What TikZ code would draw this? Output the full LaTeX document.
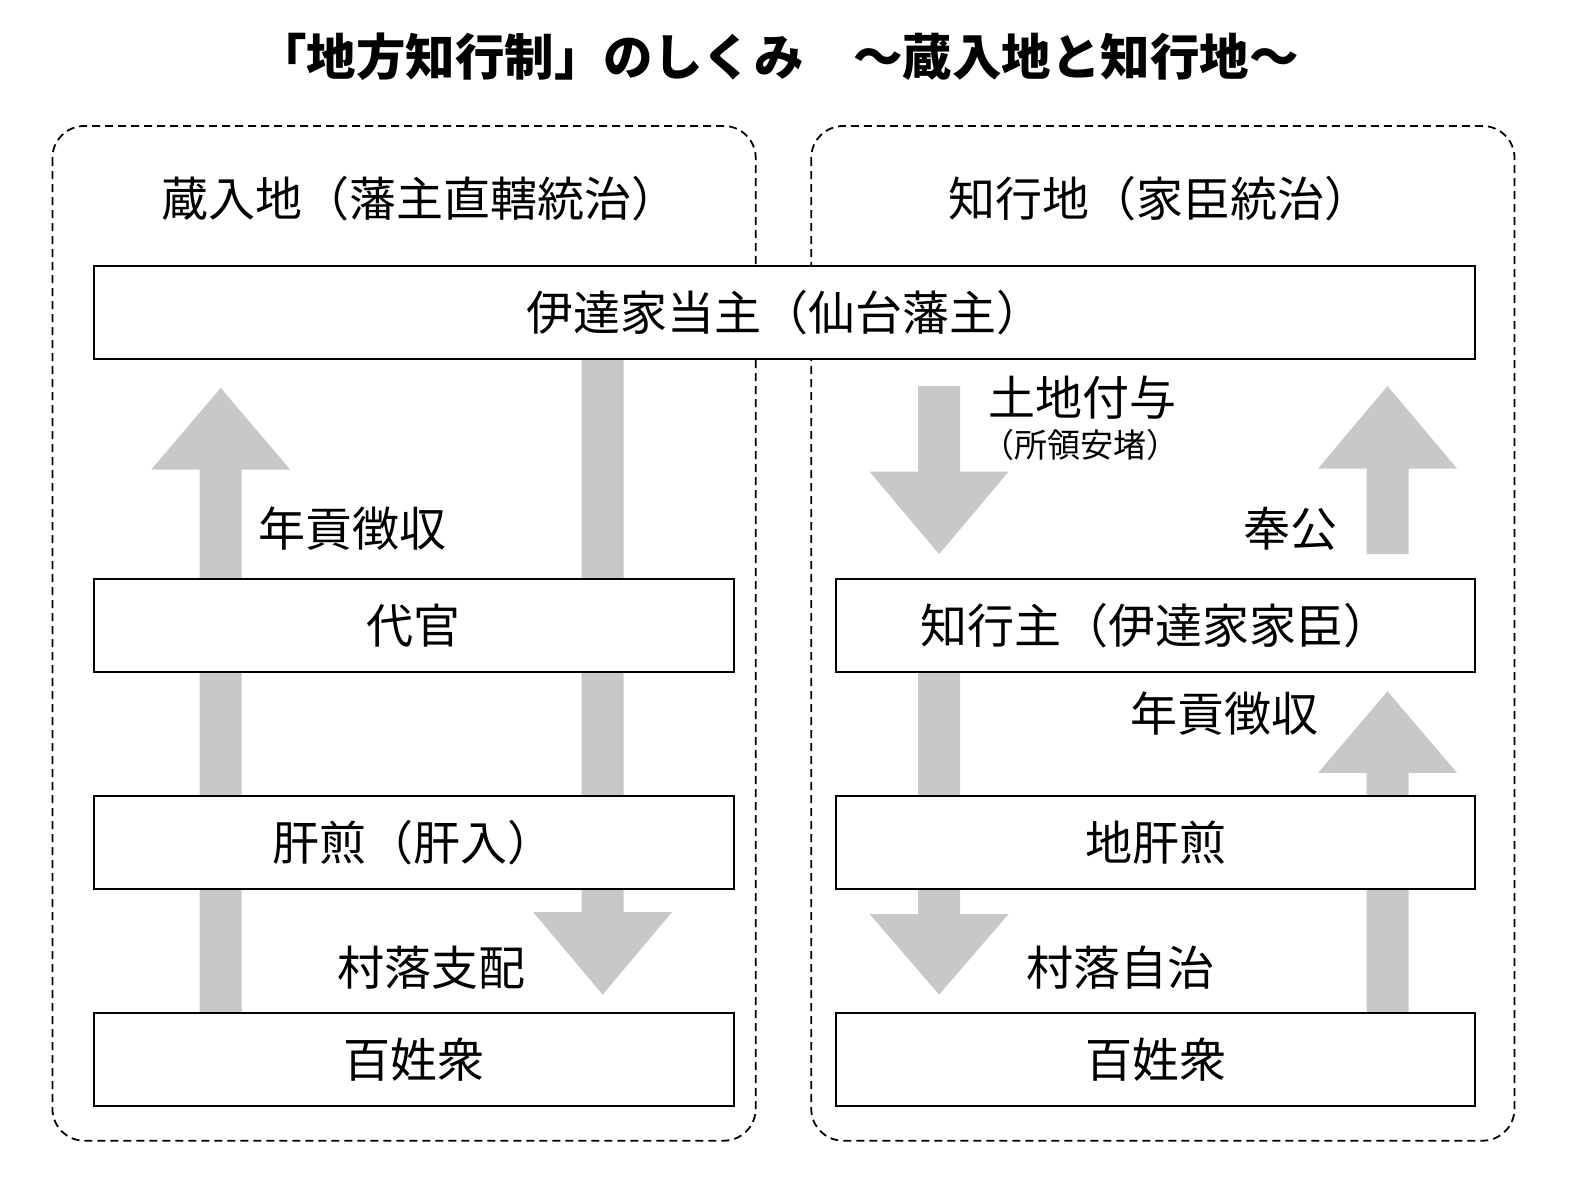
\documentclass[tikz,border=0pt]{standalone}
\usepackage{fontspec}
\setmainfont{Noto Sans CJK JP}
\definecolor{arrowgray}{RGB}{200,200,200}
\newcommand{\blockarr}[4]{%
  \fill[arrowgray] (#1-21,#2) -- (#1-21,#3) -- (#1-69.5,#3) -- (#1,#4) -- (#1+69.5,#3) -- (#1+21,#3) -- (#1+21,#2) -- cycle;}
\begin{document}
\begin{tikzpicture}[x=1pt,y=-1pt,
  box/.style={draw, line width=2pt, fill=white, inner sep=0pt, font=\fontsize{47}{56}\selectfont},
  zone/.style={draw, line width=1.8pt, dash pattern=on 8pt off 5pt, rounded corners=32pt},
  lbl/.style={font=\fontsize{47}{56}\selectfont, inner sep=0pt},
  smalllbl/.style={font=\fontsize{33}{40}\selectfont, inner sep=0pt},
  titlelbl/.style={font=\fontsize{49.5}{60}\selectfont\bfseries, inner sep=0pt}]
\useasboundingbox[fill=white] (0,0) rectangle (1580,1199);

% title
\node[titlelbl] (title) at (778,57) {「地方知行制」のしくみ　～蔵入地と知行地～};

% zones
\draw[zone] (52.4,126) rectangle (755.7,1140.7);
\draw[zone] (811.2,126) rectangle (1514.5,1140.7);
\node[lbl] (hdrL) at (420,198.5) {蔵入地（藩主直轄統治）};
\node[lbl] (hdrR) at (1160,198.5) {知行地（家臣統治）};

% arrows
\blockarr{220.7}{1012.7}{469.6}{388}
\blockarr{602.6}{358.7}{912}{994.6}
\blockarr{939.1}{386}{471.6}{554.2}
\blockarr{1387.5}{554.2}{468.6}{386}
\blockarr{939.1}{672.1}{914}{994.6}
\blockarr{1387.5}{1012.7}{772.9}{691.3}

% boxes
\node[box, minimum width=1381.5pt, minimum height=92.7pt] (lord) at (784.5,312.3) {伊達家当主（仙台藩主）};
\node[box, minimum width=640pt, minimum height=92.7pt] (daikan) at (413.6,625.7) {代官};
\node[box, minimum width=640pt, minimum height=92.7pt] (kimoiri) at (413.6,842.4) {肝煎（肝入）};
\node[box, minimum width=640pt, minimum height=92.7pt] (hyakuL) at (413.6,1059.5) {百姓衆};
\node[box, minimum width=639pt, minimum height=92.7pt] (chigyo) at (1155.8,625.7) {知行主（伊達家家臣）};
\node[box, minimum width=639pt, minimum height=92.7pt] (jikimo) at (1155.8,842.4) {地肝煎};
\node[box, minimum width=639pt, minimum height=92.7pt] (hyakuR) at (1155.8,1059.5) {百姓衆};

% labels
\node[lbl] (nengL) at (352.7,529) {年貢徴収};
\node[lbl] (sonL) at (431.3,967.3) {村落支配};
\node[lbl] (tochi) at (1082.2,398) {土地付与};
\node[smalllbl] (shoryo) at (1080,445.4) {（所領安堵）};
\node[lbl] (hoko) at (1290.8,529) {奉公};
\node[lbl] (nengR) at (1224.3,713.4) {年貢徴収};
\node[lbl] (sonR) at (1120.5,967.3) {村落自治};
\end{tikzpicture}
\end{document}
